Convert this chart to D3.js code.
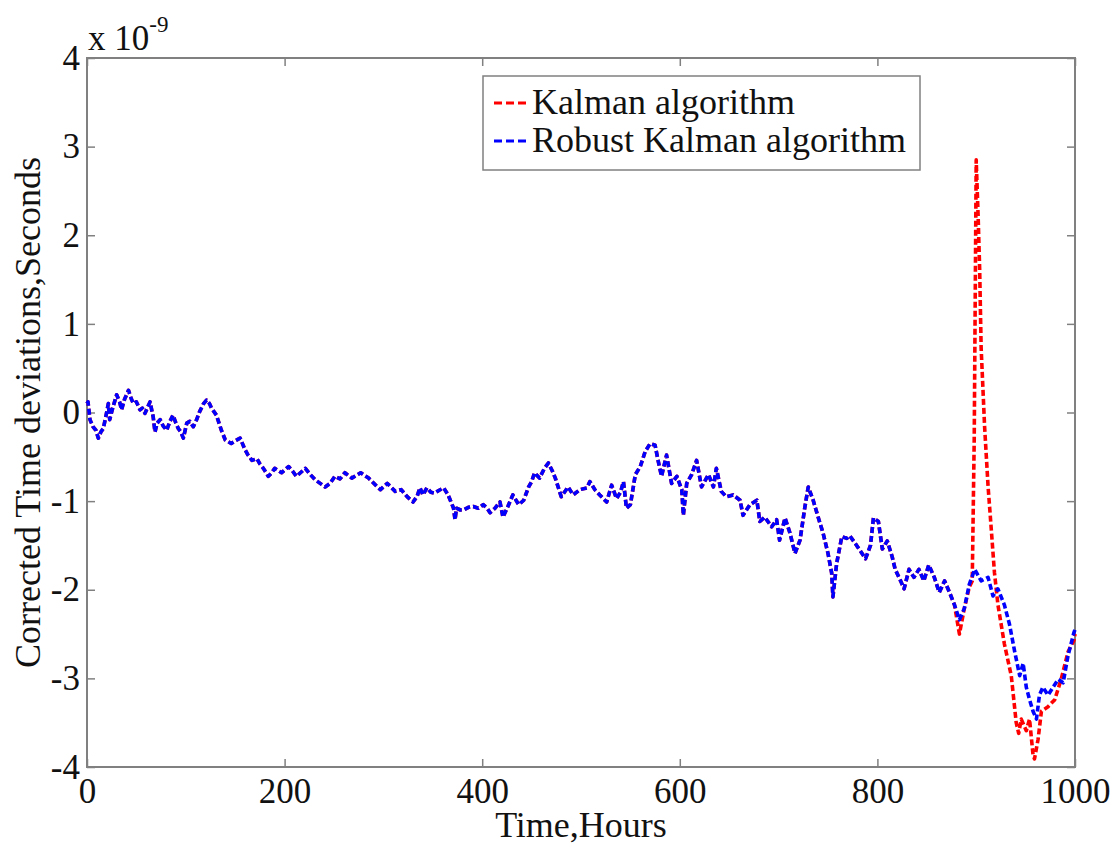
<!DOCTYPE html>
<html>
<head>
<meta charset="utf-8">
<script src="https://cdn.jsdelivr.net/npm/d3@7"></script>
<style>
  body { margin: 0; background: #fff; }
  svg text { font-family: "Liberation Serif", "Times New Roman", serif; fill: #111; }
</style>
</head>
<body>
<div id="chart"></div>
<script>
// robust kalman series (units of 1e-9 s)
const robustHours = [
    0, 1, 3, 6, 9, 11.5, 14, 16.5, 19, 21.6, 23, 26, 30, 33, 35, 38, 42, 45, 47, 50,
    53.6, 56, 58.7, 61, 63.8, 67, 68.8, 71, 74, 77, 80.6, 84, 87, 90, 92.4, 95, 97.5, 101, 104, 107.6,
    111, 114, 118, 121, 124, 126, 131, 136, 140, 146, 150, 155, 160, 163, 167, 172, 175, 178.5, 183.5, 187,
    190, 197, 204, 208, 212, 216, 221, 226, 231, 236, 241, 246, 251, 256, 261, 268, 277, 285, 294, 297,
    304, 312, 318, 324, 330, 334, 337, 340, 344, 348, 352, 356, 361, 365, 367, 371, 372.5, 374, 378, 381,
    386, 391, 396, 401, 405, 408, 413, 418, 421, 426, 431, 437, 442, 447, 450, 453, 458, 463, 467, 471,
    474, 480, 487, 492, 499, 506, 509, 514, 519, 526, 531, 536, 540, 543, 546, 550, 555, 560, 565, 570,
    575, 578, 581.5, 586.6, 591.7, 597, 602, 603.6, 607, 612, 617, 622, 629, 634, 637, 642, 647, 654, 661, 664,
    671, 678, 681, 686, 693, 698, 701, 706.5, 711.5, 716.6, 721.7, 726.7, 730, 735, 740, 745, 750, 753.7, 755, 758.8,
    764, 769, 772, 779, 788, 793, 796, 801, 805, 810, 815, 818, 823.5, 827, 832, 837, 842, 847, 852, 857.6,
    862.6, 868, 873, 878, 883, 888, 893, 898.5, 905, 912, 917, 922, 928.5, 933.7, 939, 944, 947.5, 950.7, 954, 957.5,
    961, 964, 967.5, 972.7, 977.8, 983, 988, 993, 999, 1000
];
const robustDev = [
    0.10, 0.12, -0.08, -0.16, -0.20, -0.29, -0.22, -0.18, -0.05, 0.10, -0.08, 0.05, 0.20, 0.12, 0.03, 0.15, 0.25, 0.15, 0.10, 0.12,
    0.03, 0.05, -0.01, 0.05, 0.12, -0.05, -0.22, -0.12, -0.08, -0.15, -0.20, -0.10, -0.03, -0.12, -0.18, -0.22, -0.29, -0.12, -0.10, -0.16,
    -0.08, 0.01, 0.10, 0.14, 0.10, 0.05, -0.03, -0.20, -0.31, -0.35, -0.32, -0.29, -0.42, -0.48, -0.54, -0.52, -0.58, -0.63, -0.72, -0.68,
    -0.63, -0.68, -0.61, -0.66, -0.72, -0.68, -0.63, -0.70, -0.76, -0.80, -0.84, -0.80, -0.72, -0.75, -0.68, -0.74, -0.68, -0.74, -0.84, -0.87,
    -0.80, -0.89, -0.87, -0.95, -1.01, -0.95, -0.85, -0.93, -0.85, -0.90, -0.91, -0.88, -0.85, -0.92, -0.97, -1.08, -1.21, -1.08, -1.10, -1.10,
    -1.07, -1.06, -1.08, -1.04, -1.08, -1.13, -1.08, -1.01, -1.18, -1.06, -0.93, -1.04, -0.99, -0.84, -0.78, -0.68, -0.74, -0.63, -0.57, -0.66,
    -0.74, -0.95, -0.84, -0.93, -0.87, -0.85, -0.78, -0.87, -0.93, -1.01, -0.82, -0.97, -0.90, -0.78, -1.08, -1.04, -0.70, -0.61, -0.44, -0.35,
    -0.37, -0.54, -0.72, -0.48, -0.80, -0.72, -0.87, -1.16, -0.80, -0.70, -0.54, -0.84, -0.70, -0.84, -0.63, -0.89, -0.95, -0.93, -0.99, -1.16,
    -1.04, -0.99, -1.23, -1.18, -1.29, -1.21, -1.44, -1.19, -1.36, -1.59, -1.44, -1.06, -0.84, -0.99, -1.18, -1.36, -1.59, -1.81, -2.08, -1.70,
    -1.40, -1.42, -1.39, -1.50, -1.65, -1.50, -1.19, -1.23, -1.54, -1.45, -1.63, -1.77, -1.90, -1.99, -1.77, -1.86, -1.77, -1.90, -1.72, -1.86,
    -2.03, -1.90, -2.03, -2.17, -2.34, -2.21, -1.94, -1.77, -1.90, -1.86, -2.07, -1.99, -2.17, -2.39, -2.70, -2.97, -2.83, -3.10, -3.24, -3.37,
    -3.46, -3.19, -3.10, -3.19, -3.10, -3.01, -3.05, -2.74, -2.48, -2.45
];

// plain kalman follows the robust one until ~880 h, then diverges
const kalmanSplitHour = 880;
const kalmanTailHours = [
    883, 888, 893, 896, 898, 900, 902, 903.5, 905, 908.5, 912, 915, 918.5, 922, 928.5, 935.5, 940.5, 943, 945.6, 950.7,
    954, 957.5, 959, 962.6, 966, 972.7, 979.5, 986, 993, 999, 1000
];
const kalmanTailDev = [
    -2.50, -2.21, -1.97, -1.90, -0.30, 2.85, 2.20, 1.62, 0.73, -0.16, -0.83, -1.28, -1.81, -2.17, -2.61, -2.97, -3.50, -3.62, -3.46, -3.59,
    -3.46, -3.86, -3.91, -3.69, -3.37, -3.32, -3.24, -3.01, -2.70, -2.57, -2.50
];

const xTicks = [0, 200, 400, 600, 800, 1000];
const yTicks = [-4, -3, -2, -1, 0, 1, 2, 3, 4];
const legendLabels = ['Kalman algorithm', 'Robust Kalman algorithm'];
const colours = ['#ff0000', '#0000ff'];

const W = 1120, H = 847;
const margin = { top: 58, right: 45, bottom: 80, left: 87 },
    width = W - margin.left - margin.right,
    height = H - margin.top - margin.bottom;

let robust = robustHours.map((h, i) => ({ h: h, v: robustDev[i] }));
let kalman = robust.filter(d => d.h < kalmanSplitHour)
    .concat(kalmanTailHours.map((h, i) => ({ h: h, v: kalmanTailDev[i] })));

let xScale = d3.scaleLinear().domain([0, 1000]).range([0, width]);
let yScale = d3.scaleLinear().domain([-4, 4]).range([height, 0]);

let svg = d3.select('#chart')
    .append('svg')
    .attr('width', W)
    .attr('height', H)
    .append('g')
    .attr('transform', `translate(${margin.left},${margin.top})`);

// axes, MATLAB style: ticks point inward on all four sides
let tickFont = '35px';
let plain = d => String(d);
let gx = svg.append('g')
    .attr('transform', `translate(0,${height})`)
    .call(d3.axisBottom(xScale).tickValues(xTicks).tickSize(-8).tickPadding(11).tickFormat(plain));
let gy = svg.append('g')
    .call(d3.axisLeft(yScale).tickValues(yTicks).tickSize(-8).tickPadding(7).tickFormat(plain));
let gt = svg.append('g')
    .call(d3.axisTop(xScale).tickValues(xTicks).tickSize(-8).tickFormat(''));
let gr = svg.append('g')
    .attr('transform', `translate(${width},0)`)
    .call(d3.axisRight(yScale).tickValues(yTicks).tickSize(-8).tickFormat(''));

[gx, gy, gt, gr].forEach(g => {
    g.select('.domain').remove();
    g.selectAll('line').attr('stroke', '#808080').attr('stroke-width', 1.5);
    g.selectAll('text').style('font-size', tickFont).attr('fill', '#111');
});

svg.append('rect')
    .attr('width', width)
    .attr('height', height)
    .attr('fill', 'none')
    .attr('stroke', '#808080')
    .attr('stroke-width', 2);

// series
let line = d3.line()
    .x(d => xScale(d.h))
    .y(d => yScale(d.v));

[kalman, robust].forEach((series, i) => {
    svg.append('path')
        .datum(series)
        .attr('fill', 'none')
        .attr('stroke', colours[i])
        .attr('stroke-width', 3.6)
        .attr('stroke-dasharray', '6,3')
        .attr('stroke-linejoin', 'round')
        .attr('d', line);
});

// exponent label
let expo = svg.append('text')
    .attr('x', 1)
    .attr('y', -8)
    .style('font-size', '35px');
expo.append('tspan').text('x 10');
expo.append('tspan')
    .attr('dy', -18)
    .style('font-size', '23px')
    .text('-9');

// axis titles
svg.append('text')
    .attr('x', width / 2)
    .attr('y', height + 70)
    .attr('text-anchor', 'middle')
    .style('font-size', '36px')
    .text('Time,Hours');

svg.append('text')
    .attr('transform', `translate(${-47},${height / 2}) rotate(-90)`)
    .attr('text-anchor', 'middle')
    .style('font-size', '36px')
    .text('Corrected Time deviations,Seconds');

// legend
let legend = svg.append('g')
    .attr('transform', `translate(${483 - margin.left},${76 - margin.top})`);

legend.append('rect')
    .attr('width', 437)
    .attr('height', 94)
    .attr('fill', '#fff')
    .attr('stroke', '#808080')
    .attr('stroke-width', 1.5);

legendLabels.forEach((label, i) => {
    let row = legend.append('g').attr('transform', `translate(0,${27 + i * 38})`);
    row.append('line')
        .attr('x1', 11)
        .attr('x2', 47)
        .attr('stroke', colours[i])
        .attr('stroke-width', 3)
        .attr('stroke-dasharray', '8,4');
    row.append('text')
        .attr('x', 49)
        .attr('y', 11)
        .style('font-size', '36px')
        .text(label);
});
</script>
</body>
</html>
